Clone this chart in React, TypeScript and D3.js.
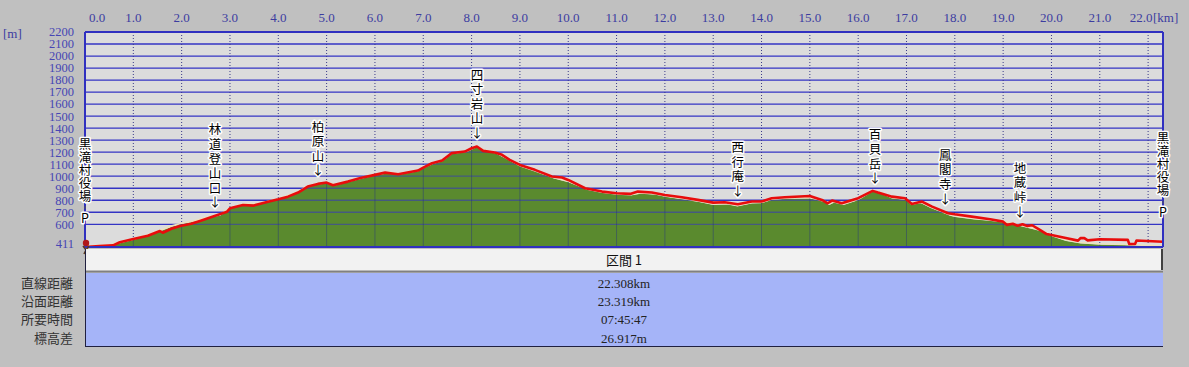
import React from "react";
import * as d3 from "d3";

// track (red) – distance [km] and elevation [m]
const trackKm = [0, 0.3, 0.58, 0.72, 1.0, 1.3, 1.55, 1.61, 1.8, 1.97, 2.2, 2.38, 2.65, 2.94, 3.0, 3.27, 3.48, 3.79, 4.0, 4.2, 4.41, 4.61, 4.82, 5.0, 5.13, 5.44, 5.7, 6.0, 6.21, 6.48, 6.89, 7.0, 7.18, 7.39, 7.45, 7.59, 7.86, 8.0, 8.11, 8.24, 8.48, 8.63, 8.79, 9.0, 9.31, 9.66, 9.87, 10.0, 10.35, 10.7, 11.0, 11.28, 11.44, 11.73, 12.0, 12.35, 12.68, 13.0, 13.24, 13.51, 13.8, 14.0, 14.21, 14.48, 15.0, 15.25, 15.37, 15.46, 15.66, 16.0, 16.3, 16.41, 16.7, 16.97, 17.11, 17.32, 17.53, 17.86, 18.0, 18.35, 18.73, 19.0, 19.08, 19.2, 19.3, 19.4, 19.5, 19.6, 19.76, 19.9, 20.0, 20.32, 20.55, 20.6, 20.68, 20.75, 21.0, 21.58, 21.61, 21.73, 21.76, 22.308];
const trackElev = [411, 418, 425, 450, 478, 505, 544, 530, 565, 586, 605, 628, 664, 705, 733, 761, 755, 788, 808, 830, 864, 914, 936, 947, 925, 955, 985, 1011, 1030, 1017, 1047, 1072, 1108, 1130, 1150, 1192, 1205, 1233, 1247, 1211, 1197, 1178, 1136, 1094, 1053, 997, 989, 969, 900, 872, 858, 853, 872, 864, 844, 825, 803, 780, 783, 767, 789, 789, 817, 825, 836, 803, 775, 797, 775, 817, 878, 864, 830, 817, 769, 789, 747, 692, 683, 664, 642, 622, 595, 605, 588, 600, 585, 592, 553, 519, 511, 483, 464, 485, 485, 466, 475, 470, 436, 436, 465, 455];

// terrain (green)
const groundKm = [0, 0.5, 1.0, 1.3, 1.6, 1.8, 2.0, 2.3, 2.6, 2.8, 3.0, 3.3, 3.6, 4.0, 4.4, 4.6, 4.8, 5.0, 5.2, 5.5, 6.0, 6.3, 6.5, 6.9, 7.0, 7.2, 7.4, 7.6, 7.9, 8.1, 8.3, 8.5, 8.8, 9.0, 9.3, 9.7, 10.0, 10.4, 10.7, 11.0, 11.3, 11.5, 11.8, 12.0, 12.4, 12.7, 13.0, 13.3, 13.5, 13.8, 14.0, 14.2, 14.5, 15.0, 15.3, 15.4, 15.5, 15.7, 16.0, 16.3, 16.5, 16.7, 17.0, 17.1, 17.3, 17.5, 17.9, 18.0, 18.4, 18.7, 19.0, 19.3, 19.6, 19.8, 20.0, 20.3, 20.6, 21.0, 21.5, 22.0, 22.308];
const groundElev = [411, 420, 470, 505, 548, 580, 600, 625, 658, 672, 730, 765, 765, 805, 860, 910, 930, 940, 925, 955, 1005, 1025, 1012, 1042, 1065, 1100, 1125, 1185, 1200, 1240, 1205, 1190, 1125, 1080, 1040, 980, 950, 885, 860, 845, 840, 855, 845, 830, 805, 785, 760, 765, 748, 772, 775, 800, 810, 815, 785, 760, 780, 760, 800, 872, 850, 815, 800, 760, 775, 735, 670, 660, 640, 630, 615, 590, 560, 540, 500, 460, 440, 430, 425, 418, 415];

const kmTicks = d3.range(0, 23);
const elevTicks = d3.range(600, 2201, 100);

const waypointNames = ["黒滝村役場P", "林道登山口", "柏原山", "四寸岩山", "西行庵", "百貝岳", "鳳閣寺", "地蔵峠", "黒滝村役場P"];
const waypointKm = [0, 2.69, 4.82, 8.11, 13.51, 16.35, 17.8, 19.35, 22.308];

const sectionTitle = "区間 1";
const statLabels = ["直線距離", "沿面距離", "所要時間", "標高差"];
const statValues = ["22.308km", "23.319km", "07:45:47", "26.917m"];

const W = 1189;
const H = 367;
const plot = { left: 85, right: 1163, top: 32, bottom: 247 };
const serif = "'Liberation Serif', 'DejaVu Serif', serif";
const cjk = "'Noto Sans CJK JP', sans-serif";

export default function App() {
  const x = d3.scaleLinear().domain([0, 22.308]).range([plot.left, plot.right]);
  const y = d3.scaleLinear().domain([411, 2200]).range([plot.bottom, plot.top]);
  const elevAt = d3.scaleLinear().domain(trackKm).range(trackElev);

  const track = trackKm.map((k, i) => [k, trackElev[i]] as [number, number]);
  const ground = groundKm.map((k, i) => [k, groundElev[i]] as [number, number]);

  const line = d3.line<[number, number]>().x((d) => x(d[0])).y((d) => y(d[1]));
  const area = d3
    .area<[number, number]>()
    .x((d) => x(d[0]))
    .y0(plot.bottom)
    .y1((d) => y(d[1]));

  const gridH = (op: number) =>
    elevTicks.map((t) => (
      <line key={t} x1={plot.left} x2={plot.right} y1={y(t)} y2={y(t)} stroke="#3434c4" strokeWidth={1.3} opacity={op} />
    ));
  const gridV = (dash: string | undefined, op: number, color: string) =>
    kmTicks.slice(1).map((t) => (
      <line key={t} x1={x(t)} x2={x(t)} y1={plot.top} y2={plot.bottom} stroke={color} strokeWidth={1} strokeDasharray={dash} opacity={op} />
    ));

  const halo = { stroke: "#ffffff", strokeWidth: 3, paintOrder: "stroke" as const, strokeLinejoin: "round" as const };

  const labels = waypointNames.map((name, i) => {
    const km = waypointKm[i];
    const px = x(km);
    const py = y(elevAt(km));
    const edge = i === 0 || i === waypointNames.length - 1;
    const chars = Array.from(name);
    if (edge) {
      const body = chars.slice(0, -1);
      const pY = py - 29;
      const step = 13;
      return (
        <g key={i} fontFamily={cjk} fontSize={12.5} textAnchor="middle" fill="#000">
          {body.map((c, j) => (
            <text key={j} x={px} y={pY - 22 - (body.length - 1 - j) * step} dy="0.36em" {...halo}>
              {c}
            </text>
          ))}
          <line x1={px} x2={px} y1={pY - 12} y2={pY - 9} stroke="#555" strokeWidth={1} />
          <text x={px} y={pY} dy="0.36em" {...halo}>
            P
          </text>
        </g>
      );
    }
    const arrowY = py - 13;
    const step = 14.6;
    return (
      <g key={i} fontFamily={cjk} fontSize={12.5} textAnchor="middle" fill="#000">
        {chars.map((c, j) => (
          <text key={j} x={px} y={arrowY - (chars.length - j) * step} dy="0.36em" {...halo}>
            {c}
          </text>
        ))}
        <text x={px} y={arrowY} dy="0.36em" {...halo}>
          ↓
        </text>
      </g>
    );
  });

  const rowY = [283, 301, 319, 338];
  const midX = (plot.left + plot.right) / 2;

  return (
    <svg width={W} height={H} style={{ position: "absolute", left: 0, top: 0 }}>
      <defs>
        <clipPath id="groundClip">
          <path d={area(ground) ?? ""} />
        </clipPath>
      </defs>
      <rect x={0} y={0} width={W} height={H} fill="#c0c0c0" />
      <rect x={plot.left} y={plot.top} width={plot.right - plot.left} height={plot.bottom - plot.top} fill="#dcdcdc" />

      {/* grid on background */}
      {gridH(1)}
      {gridV("1 2", 1, "#3a3a8a")}

      {/* terrain */}
      <path d={area(ground) ?? ""} fill="#5a8a2e" />
      <path d={line(ground) ?? ""} fill="none" stroke="#ece0bc" strokeWidth={1.5} transform="translate(0,-1)" />
      <g clipPath="url(#groundClip)">
        {gridH(0.55)}
        {gridV(undefined, 0.5, "#2a3a7a")}
      </g>

      {/* track */}
      <path d={line(track) ?? ""} fill="none" stroke="#e80c0c" strokeWidth={2.6} strokeLinejoin="round" />

      {/* frame */}
      <line x1={plot.left} x2={plot.right} y1={plot.top} y2={plot.top} stroke="#3030c0" strokeWidth={2} />
      <line x1={plot.left} x2={plot.left} y1={plot.top} y2={plot.bottom} stroke="#3030c0" strokeWidth={2} />
      <line x1={plot.right} x2={plot.right} y1={plot.top} y2={plot.bottom} stroke="#3030c0" strokeWidth={2} />
      <line x1={plot.left} x2={plot.right} y1={plot.bottom} y2={plot.bottom} stroke="#3030c0" strokeWidth={2} />

      {/* top axis */}
      <g fontFamily={serif} fontSize={13} fill="#3c3ca0" textAnchor="middle">
        {kmTicks.map((t) => (
          <text key={t} x={Math.min(Math.max(x(t), 97), 1141)} y={17} dy="0.35em">
            {t.toFixed(1)}
          </text>
        ))}
        <text x={1153} y={17} dy="0.35em" textAnchor="start">
          [km]
        </text>
      </g>

      {/* left axis */}
      <g fontFamily={serif} fontSize={12.5} fill="#4646b4" textAnchor="end">
        {elevTicks.map((t) => (
          <text key={t} x={74} y={y(t)} dy="0.35em">
            {t}
          </text>
        ))}
        <text x={74} y={y(411)} dy="0.1em">
          411
        </text>
        <text x={3} y={33} dy="0.35em" textAnchor="start" fill="#3c3ca0" fontSize={13}>
          [m]
        </text>
      </g>

      {labels}

      {/* start marker */}
      <g transform={`translate(${x(0)},${y(411)})`}>
        <circle cx={1} cy={-4} r={3.2} fill="#b01818" />
        <path d="M-2,-1 L1,3 L4,-1 M1,3 L-1,7 M1,3 L4,7" stroke="#5a3a20" strokeWidth={1.6} fill="none" />
      </g>

      {/* section table */}
      <rect x={plot.left} y={249} width={plot.right - plot.left} height={22} fill="#f2f2f2" />
      <line x1={plot.left} x2={plot.right} y1={271.5} y2={271.5} stroke="#808080" strokeWidth={2} />
      <text x={midX} y={260} dy="0.36em" textAnchor="middle" fontFamily={cjk} fontSize={13} fill="#111">
        {sectionTitle}
      </text>
      <rect x={plot.left} y={273} width={plot.right - plot.left} height={73} fill="#a5b4f8" />
      <line x1={plot.left + 0.5} x2={plot.left + 0.5} y1={249} y2={346} stroke="#202040" strokeWidth={1} />
      <line x1={plot.left} x2={plot.right} y1={346.5} y2={346.5} stroke="#202040" strokeWidth={1} />
      <line x1={plot.right - 1} x2={plot.right - 1} y1={249} y2={270} stroke="#404040" strokeWidth={2} />
      {statLabels.map((s, i) => (
        <text key={s} x={73} y={rowY[i]} dy="0.36em" textAnchor="end" fontFamily={cjk} fontSize={13} fill="#333">
          {s}
        </text>
      ))}
      {statValues.map((v, i) => (
        <text key={v} x={midX} y={rowY[i]} dy="0.35em" textAnchor="middle" fontFamily={serif} fontSize={13} fill="#222">
          {v}
        </text>
      ))}
    </svg>
  );
}
